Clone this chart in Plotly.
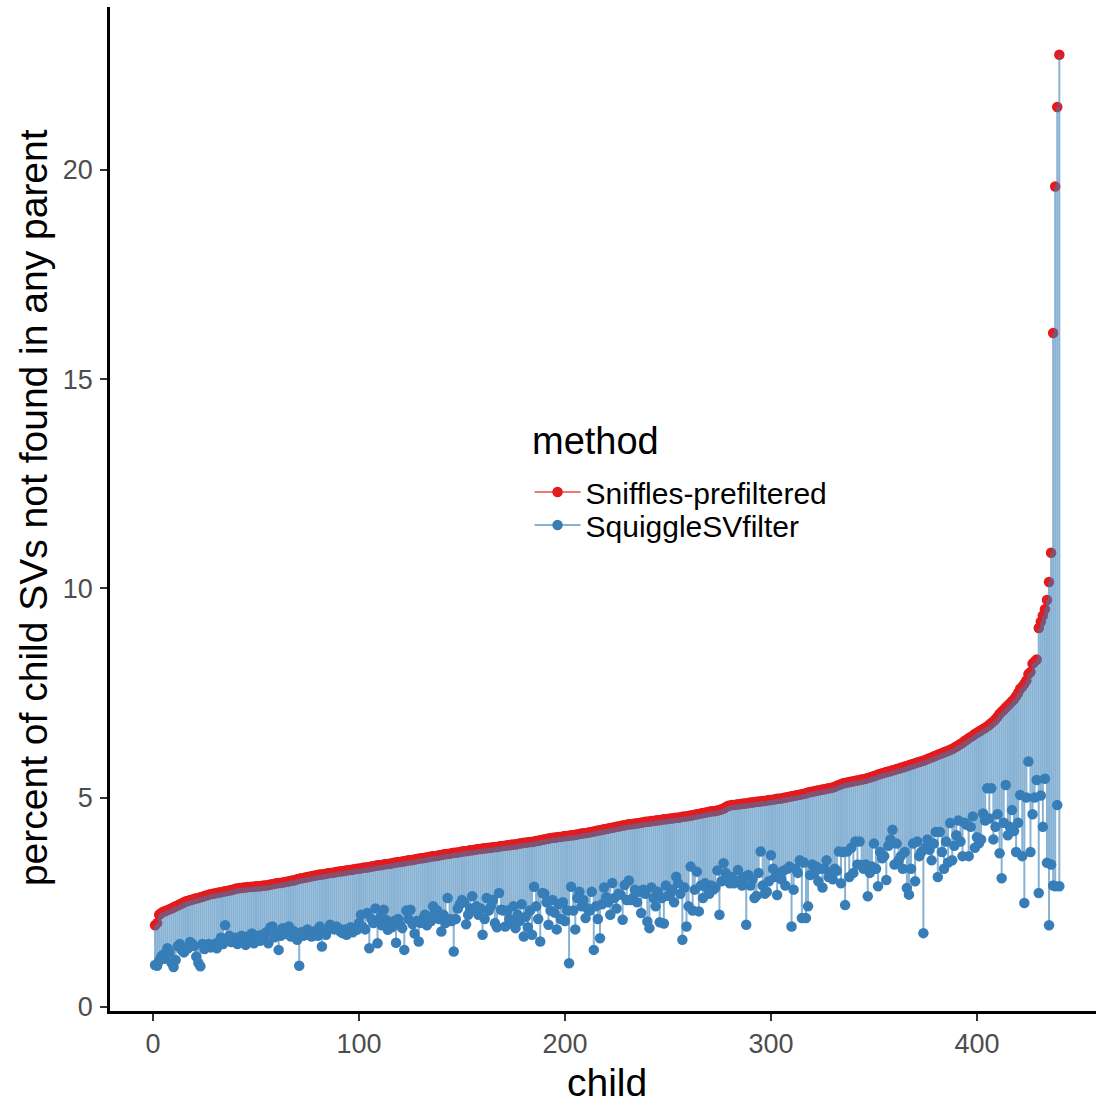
import plotly.graph_objects as go

# ---------------- data ----------------
sniffles_prefiltered = [
    1.95, 2.0, 2.2, 2.24, 2.27, 2.29, 2.31, 2.33, 2.35, 2.38,
    2.4, 2.42, 2.45, 2.47, 2.5, 2.52, 2.53, 2.55, 2.56, 2.58,
    2.59, 2.6, 2.62, 2.63, 2.65, 2.66, 2.68, 2.69, 2.7, 2.71,
    2.72, 2.73, 2.74, 2.75, 2.76, 2.77, 2.78, 2.79, 2.8, 2.82,
    2.83, 2.84, 2.84, 2.85, 2.85, 2.86, 2.86, 2.87, 2.87, 2.88,
    2.88, 2.88, 2.89, 2.9, 2.9, 2.91, 2.92, 2.93, 2.94, 2.95,
    2.96, 2.96, 2.97, 2.98, 2.99, 3.0, 3.01, 3.02, 3.03, 3.05,
    3.06, 3.07, 3.08, 3.09, 3.1, 3.11, 3.12, 3.13, 3.14, 3.15,
    3.16, 3.16, 3.17, 3.18, 3.19, 3.2, 3.2, 3.21, 3.22, 3.23,
    3.24, 3.24, 3.25, 3.26, 3.27, 3.27, 3.28, 3.29, 3.3, 3.3,
    3.31, 3.32, 3.33, 3.33, 3.34, 3.35, 3.36, 3.37, 3.38, 3.38,
    3.39, 3.4, 3.41, 3.41, 3.42, 3.43, 3.44, 3.45, 3.46, 3.46,
    3.47, 3.48, 3.49, 3.5, 3.5, 3.51, 3.52, 3.53, 3.54, 3.55,
    3.55, 3.56, 3.57, 3.58, 3.59, 3.6, 3.6, 3.61, 3.62, 3.63,
    3.64, 3.65, 3.65, 3.66, 3.67, 3.68, 3.68, 3.69, 3.7, 3.71,
    3.72, 3.72, 3.73, 3.74, 3.74, 3.75, 3.76, 3.77, 3.77, 3.78,
    3.79, 3.79, 3.8, 3.8, 3.81, 3.82, 3.82, 3.83, 3.84, 3.84,
    3.85, 3.86, 3.86, 3.87, 3.88, 3.88, 3.89, 3.9, 3.91, 3.92,
    3.92, 3.93, 3.94, 3.94, 3.95, 3.96, 3.97, 3.98, 3.99, 4.0,
    4.01, 4.02, 4.03, 4.04, 4.04, 4.05, 4.06, 4.06, 4.07, 4.08,
    4.08, 4.09, 4.1, 4.1, 4.11, 4.12, 4.13, 4.14, 4.15, 4.15,
    4.16, 4.17, 4.18, 4.19, 4.2, 4.21, 4.22, 4.23, 4.24, 4.25,
    4.26, 4.27, 4.28, 4.29, 4.3, 4.31, 4.32, 4.33, 4.34, 4.35,
    4.36, 4.36, 4.37, 4.38, 4.38, 4.39, 4.4, 4.41, 4.42, 4.42,
    4.43, 4.44, 4.44, 4.45, 4.46, 4.46, 4.47, 4.48, 4.48, 4.49,
    4.5, 4.5, 4.51, 4.52, 4.52, 4.53, 4.54, 4.55, 4.55, 4.56,
    4.57, 4.58, 4.59, 4.6, 4.61, 4.62, 4.63, 4.64, 4.65, 4.66,
    4.67, 4.67, 4.68, 4.69, 4.7, 4.72, 4.74, 4.77, 4.8, 4.81,
    4.82, 4.82, 4.83, 4.84, 4.84, 4.85, 4.86, 4.86, 4.87, 4.88,
    4.88, 4.89, 4.9, 4.9, 4.91, 4.92, 4.92, 4.93, 4.94, 4.94,
    4.95, 4.96, 4.97, 4.97, 4.98, 4.99, 5.0, 5.01, 5.02, 5.03,
    5.04, 5.05, 5.06, 5.07, 5.08, 5.09, 5.1, 5.12, 5.13, 5.14,
    5.15, 5.16, 5.17, 5.18, 5.19, 5.2, 5.21, 5.22, 5.23, 5.24,
    5.26, 5.28, 5.3, 5.32, 5.34, 5.35, 5.36, 5.37, 5.38, 5.39,
    5.4, 5.41, 5.42, 5.43, 5.44, 5.45, 5.47, 5.48, 5.5, 5.51,
    5.53, 5.55, 5.56, 5.58, 5.59, 5.61, 5.62, 5.63, 5.65, 5.66,
    5.68, 5.69, 5.71, 5.72, 5.74, 5.75, 5.77, 5.79, 5.8, 5.82,
    5.84, 5.85, 5.87, 5.88, 5.9, 5.92, 5.94, 5.96, 5.98, 6.0,
    6.02, 6.04, 6.06, 6.08, 6.1, 6.12, 6.14, 6.16, 6.19, 6.22,
    6.25, 6.28, 6.31, 6.35, 6.38, 6.42, 6.45, 6.48, 6.52, 6.55,
    6.58, 6.61, 6.64, 6.67, 6.7, 6.74, 6.78, 6.82, 6.87, 6.93,
    7.0, 7.05, 7.1, 7.15, 7.2, 7.25, 7.3, 7.35, 7.42, 7.5,
    7.6, 7.65, 7.72, 7.8, 7.95, 8.0, 8.2, 8.25, 8.3, 9.05,
    9.2, 9.35, 9.5, 9.72, 10.15, 10.85, 16.1, 19.6, 21.5, 22.75,
]

squiggle_sv_filter = [
    1.0, 0.98, 1.1, 1.2, 1.25, 1.15, 1.4, 1.3, 1.05, 0.95,
    1.12, 1.45, 1.5, 1.35, 1.3, 1.38, 1.4, 1.55, 1.5, 1.45,
    1.2, 1.05, 0.97, 1.5, 1.38, 1.45, 1.5, 1.42, 1.48, 1.5,
    1.4, 1.55, 1.65, 1.5, 1.95, 1.6, 1.7, 1.55, 1.6, 1.65,
    1.5, 1.62, 1.7, 1.55, 1.48, 1.68, 1.6, 1.75, 1.52, 1.66,
    1.7, 1.58, 1.72, 1.64, 1.78, 1.52, 1.9, 1.92, 1.66, 1.75,
    1.36, 1.7, 1.88, 1.8, 1.74, 1.92, 1.68, 1.82, 1.75, 1.6,
    0.98, 1.78, 1.7, 1.8, 1.85, 1.72, 1.68, 1.76, 1.82, 1.7,
    1.92, 1.44, 1.78, 1.72, 1.86, 1.96, 1.9, 1.85, 1.92, 1.88,
    1.8, 1.76, 1.85, 1.72, 1.82, 1.9, 1.78, 1.86, 1.84, 2.0,
    2.2, 1.9, 1.85, 2.24, 1.4, 2.1, 2.0, 2.35, 1.52, 2.12,
    1.95, 2.32, 2.08, 1.84, 2.0, 1.9, 2.05, 1.53, 2.1, 1.95,
    1.88, 1.36, 2.3, 2.1, 2.32, 1.98, 1.75, 2.05, 1.56, 2.0,
    2.1, 2.2, 1.95, 2.15, 2.05, 2.4, 2.25, 2.3, 2.1, 1.8,
    2.2, 2.0, 2.6, 2.1, 2.05, 1.32, 2.1, 2.35, 2.45, 2.55,
    2.5, 1.97, 2.2, 2.35, 2.64, 2.3, 2.4, 2.2, 2.35, 1.72,
    2.1, 2.6, 2.3, 2.4, 2.55, 2.0, 1.9, 2.72, 2.32, 2.3,
    1.92, 2.3, 2.1, 2.0, 2.4, 1.88, 2.2, 2.05, 2.45, 1.68,
    2.15, 1.9, 2.3, 1.72, 2.87, 2.4, 2.1, 1.56, 2.72, 2.7,
    2.5, 1.96, 2.3, 2.55, 2.25, 1.85, 2.45, 2.1, 2.5, 2.05,
    2.3, 1.04, 2.87, 2.3, 1.85, 2.6, 2.75, 2.4, 2.55, 2.12,
    2.35, 2.3, 2.75, 1.36, 2.4, 2.1, 1.64, 2.45, 2.85, 2.62,
    2.5, 2.2, 2.96, 2.6, 2.35, 2.7, 2.68, 2.08, 2.91, 2.55,
    3.02, 2.55, 2.6, 2.8, 2.5, 2.75, 2.24, 2.8, 2.7, 2.04,
    1.88, 2.85, 2.6, 2.4, 2.75, 2.02, 2.6, 1.99, 2.9, 2.65,
    2.7, 2.8, 2.5, 3.11, 2.95, 2.7, 1.6, 2.85, 1.92, 2.4,
    3.35, 2.3, 2.8, 3.23, 2.28, 2.9, 2.6, 2.95, 2.85, 2.7,
    2.9, 2.8, 2.85, 3.26, 2.2, 3.0, 3.43, 3.2, 3.1, 2.95,
    3.1, 2.95, 3.0, 3.27, 3.03, 2.9, 3.1, 1.96, 3.15, 2.9,
    3.05, 2.6, 2.65, 3.2, 3.71, 2.9, 2.7, 2.75, 3.0, 3.62,
    3.3, 3.1, 2.67, 3.2, 3.05, 3.25, 2.9, 3.3, 3.35, 1.92,
    2.8, 3.3, 3.2, 3.5, 2.12, 3.45, 2.12, 2.4, 3.15, 3.4,
    3.2, 3.35, 3.0, 3.3, 2.85, 3.3, 3.5, 3.1, 3.2, 3.05,
    3.3, 3.25, 3.71, 2.95, 3.7, 2.43, 3.71, 3.1, 3.8, 3.2,
    3.95, 3.4, 3.95, 3.39, 3.3, 3.4, 2.64, 3.2, 3.35, 3.9,
    3.3, 2.88, 3.7, 3.55, 3.6, 3.03, 3.85, 4.0, 4.23, 3.4,
    3.9, 3.5, 3.6, 3.3, 3.7, 2.84, 2.68, 3.3, 3.9, 3.0,
    3.95, 3.6, 3.7, 1.76, 3.8, 4.0, 3.75, 3.5, 3.9, 4.18,
    3.1, 4.18, 3.7, 3.3, 3.95, 3.45, 4.39, 3.5, 3.85, 4.1,
    4.45, 3.95, 3.6, 4.4, 4.35, 3.6, 4.3, 4.55, 3.8, 4.05,
    3.91, 4.0, 4.62, 4.45, 5.22, 4.5, 5.22, 4.0, 4.3, 4.6,
    3.67, 3.07, 4.4, 5.3, 4.1, 4.3, 4.7, 4.2, 3.7, 4.4,
    5.06, 3.6, 2.48, 5.0, 5.86, 3.7, 4.6, 5.0, 5.42, 2.72,
    5.05, 4.3, 5.45, 3.44, 1.95, 3.4, 2.9, 2.88, 4.82, 2.88,
]

child = list(range(1, len(sniffles_prefiltered) + 1))

x_ticks = [0, 100, 200, 300, 400]
y_ticks = [0, 5, 10, 15, 20]

RED = "#E41A1C"
BLUE = "#377EB8"
FONT = "Liberation Sans, Arial, sans-serif"

# segments joining the two methods for each child
seg_x, seg_y = [], []
for c, a, b in zip(child, squiggle_sv_filter, sniffles_prefiltered):
    seg_x += [c, c, None]
    seg_y += [a, b, None]


def isolated(xs, ys):
    ox, oy = [], []
    for a, b in zip(xs, ys):
        ox += [a, None]
        oy += [b, None]
    return ox, oy


rx, ry = isolated(child, sniffles_prefiltered)
bx, by = isolated(child, squiggle_sv_filter)

fig = go.Figure()
fig.add_trace(go.Scatter(
    x=rx, y=ry, mode="lines+markers", name="Sniffles-prefiltered",
    connectgaps=False, legend="legend",
    marker=dict(color=RED, size=10.5, line=dict(width=0)),
    line=dict(color="rgba(228,26,28,0.6)", width=2),
))
fig.add_trace(go.Scatter(
    x=bx, y=by, mode="lines+markers", name="SquiggleSVfilter",
    connectgaps=False, legend="legend2",
    marker=dict(color=BLUE, size=10.5, line=dict(width=0)),
    line=dict(color="rgba(55,126,184,0.6)", width=2),
))
fig.add_trace(go.Scatter(
    x=seg_x, y=seg_y, mode="lines", showlegend=False, hoverinfo="skip",
    line=dict(color="rgba(55,126,184,0.6)", width=2),
))

leg_common = dict(
    xanchor="left", yanchor="middle", bgcolor="rgba(0,0,0,0)",
    font=dict(size=30, family=FONT, color="black"),
    itemwidth=46, tracegroupgap=0,
)

fig.update_layout(
    width=1096, height=1103,
    margin=dict(l=110, r=0, t=7, b=92),
    paper_bgcolor="white", plot_bgcolor="white",
    font=dict(family=FONT, color="black"),
    showlegend=True,
    legend=dict(x=0.4255, y=(1011 - 492) / 1004, **leg_common),
    legend2=dict(x=0.4255, y=(1011 - 525) / 1004, **leg_common),
    xaxis=dict(
        range=[-20.87, 457.8], tickvals=x_ticks, ticktext=[str(v) for v in x_ticks],
        showgrid=False, zeroline=False, showline=True, linecolor="black", linewidth=2.5,
        ticks="outside", ticklen=7, tickwidth=2, tickcolor="#333333",
        tickfont=dict(size=27, color="#4D4D4D", family=FONT),
    ),
    yaxis=dict(
        range=[-0.1, 23.89], tickvals=y_ticks, ticktext=[str(v) for v in y_ticks],
        showgrid=False, zeroline=False, showline=True, linecolor="black", linewidth=2.5,
        ticks="outside", ticklen=7, tickwidth=2, tickcolor="#333333",
        tickfont=dict(size=27, color="#4D4D4D", family=FONT),
        ticklabelstandoff=2,
    ),
    annotations=[
        dict(text="child", xref="paper", yref="paper", x=0.504, y=-0.0717,
             xanchor="center", yanchor="middle", showarrow=False,
             font=dict(size=39, color="black", family=FONT)),
        dict(text="percent of child SVs not found in any parent", xref="paper", yref="paper",
             x=-0.077, y=0.501, xanchor="center", yanchor="middle", textangle=-90,
             showarrow=False, font=dict(size=39, color="black", family=FONT)),
        dict(text="method", xref="paper", yref="paper", x=0.4255, y=0.568,
             xanchor="left", yanchor="middle", showarrow=False,
             font=dict(size=38, color="black", family=FONT)),
    ],
)

fig.write_html("out.html")
